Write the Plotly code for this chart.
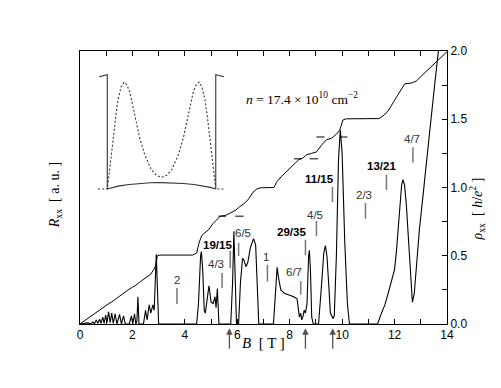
import plotly.graph_objects as go

# ----------------------------
# Data
# ----------------------------
# longitudinal resistance R_xx (arb. units, drawn on the 0..2 scale)
rxx_b = [0.0, 0.15, 0.3, 0.4, 0.5, 0.55, 0.62, 0.68, 0.75, 0.8, 0.87, 0.92, 0.98, 1.03,
         1.09, 1.15, 1.21, 1.27, 1.34, 1.41, 1.51, 1.58, 1.66, 1.73, 1.88, 1.96, 2.01,
         2.08, 2.13, 2.17, 2.21, 2.25, 2.42, 2.5, 2.56, 2.64, 2.7, 2.78, 2.83, 2.91,
         2.96, 3.0, 4.45, 4.52, 4.6, 4.63, 4.68, 4.74, 4.78, 4.88, 4.92, 5.0, 5.08,
         5.15, 5.19, 5.24, 5.3, 5.75, 5.82, 5.87, 5.92, 5.97, 6.05, 6.12, 6.2, 6.25,
         6.33, 6.4, 6.5, 6.62, 6.7, 6.76, 6.82, 7.38, 7.45, 7.52, 7.58, 7.66, 7.8,
         7.95, 8.15, 8.28, 8.33, 8.37, 8.42, 8.46, 8.5, 8.55, 8.6, 8.66, 8.72, 8.75,
         8.79, 8.84, 8.9, 9.1, 9.2, 9.3, 9.36, 9.42, 9.5, 9.55, 9.65, 9.7, 9.78, 9.86,
         9.93, 10.0, 10.1, 10.2, 10.28, 11.35, 11.5, 11.63, 11.75, 11.88, 12.0, 12.07,
         12.2, 12.27, 12.32, 12.38, 12.45, 12.53, 12.6, 12.68, 12.75, 12.83, 12.95,
         13.09, 13.2, 13.34, 13.5, 13.7]
rxx_val = [0.0, 0.003, 0.008, 0.002, 0.015, 0.0, 0.03, 0.005, 0.035, 0.005, 0.05, 0.005,
           0.065, 0.01, 0.09, 0.01, 0.08, 0.005, 0.075, 0.0, 0.07, 0.0, 0.06, 0.0, 0.0,
           0.06, 0.0, 0.075, 0.0, 0.02, 0.2, 0.0, 0.0, 0.1, 0.03, 0.14, 0.08, 0.14, 0.1,
           0.51, 0.1, 0.0, 0.0, 0.15, 0.5, 0.53, 0.4, 0.1, 0.08, 0.26, 0.28, 0.16, 0.15,
           0.2, 0.12, 0.26, 0.0, 0.0, 0.3, 0.68, 0.3, 0.0, 0.0, 0.3, 0.48, 0.47, 0.42,
           0.45, 0.56, 0.625, 0.58, 0.3, 0.0, 0.0, 0.25, 0.415, 0.33, 0.25, 0.225, 0.215,
           0.2, 0.185, 0.12, 0.05, 0.08, 0.03, 0.05, 0.1, 0.08, 0.15, 0.5, 0.54, 0.4,
           0.05, 0.0, 0.0, 0.25, 0.52, 0.575, 0.5, 0.25, 0.08, 0.04, 0.06, 0.5, 1.2,
           1.42, 1.25, 0.6, 0.15, 0.0, 0.0, 0.08, 0.14, 0.22, 0.31, 0.4, 0.53, 0.87,
           1.02, 1.057, 1.02, 0.87, 0.6, 0.35, 0.16, 0.22, 0.41, 0.7, 0.95, 1.17, 1.41,
           1.7, 2.05]

# Hall resistance staircase (h/e^2)
rxy_b = [0.0, 0.5, 0.9, 1.1, 1.2, 1.5, 1.6, 1.8, 2.0, 2.1, 2.3, 2.45, 2.6, 2.7, 2.85,
         2.9, 2.95, 3.05, 4.3, 4.45, 4.55, 4.65, 4.9, 5.07, 5.2, 5.35, 5.55, 5.7, 5.84,
         5.95, 6.09, 6.25, 6.41, 6.6, 6.75, 6.9, 7.4, 7.5, 7.68, 7.94, 8.19, 8.35, 8.5,
         8.64, 8.83, 9.02, 9.21, 9.4, 9.59, 9.78, 9.91, 10.03, 10.16, 11.4, 11.6, 11.75,
         12.13, 12.39, 12.64, 12.83, 13.15, 13.53, 14.0]
rxy_val = [0.0, 0.07, 0.125, 0.15, 0.16, 0.205, 0.215, 0.245, 0.27, 0.28, 0.31, 0.33,
           0.355, 0.365, 0.41, 0.44, 0.5, 0.505, 0.505, 0.52, 0.6, 0.65, 0.69, 0.735,
           0.76, 0.79, 0.795, 0.81, 0.825, 0.835, 0.86, 0.88, 0.91, 0.965, 0.99, 0.998,
           1.0, 1.04, 1.08, 1.13, 1.18, 1.205, 1.215, 1.24, 1.25, 1.26, 1.31, 1.35, 1.36,
           1.39, 1.42, 1.495, 1.503, 1.505, 1.53, 1.56, 1.68, 1.76, 1.765, 1.78, 1.84,
           1.91, 1.995]

# short horizontal level marks (pairs around the arrows)
dash_level = [0.79, 0.79, 1.21, 1.21, 1.37, 1.37]
dash_start = [5.28, 5.92, 8.16, 8.76, 9.02, 9.91]
dash_end = [5.57, 6.24, 8.44, 9.08, 9.33, 10.2]

# filling-factor labels: text, mark position B, mark bottom/top, label B, label y, bold
frac_text = ["2", "19/15", "4/3", "6/5", "1", "6/7", "29/35", "4/5", "11/15", "2/3",
             "13/21", "4/7"]
frac_b = [3.7, 5.73, 5.42, 6.05, 7.15, 8.42, 8.6, 9.02, 9.63, 10.89, 11.69, 12.7]
frac_lo = [0.147, 0.41, 0.264, 0.498, 0.312, 0.215, 0.503, 0.645, 0.894, 0.771, 0.982, 1.184]
frac_hi = [0.264, 0.535, 0.374, 0.593, 0.434, 0.315, 0.617, 0.755, 1.004, 0.887, 1.094, 1.294]
frac_lab_b = [3.7, 5.23, 5.17, 6.22, 7.11, 8.16, 8.06, 8.98, 9.15, 10.84, 11.5, 12.67]
frac_lab_y = [0.325, 0.58, 0.44, 0.667, 0.488, 0.381, 0.672, 0.80, 1.064, 0.943, 1.159, 1.357]
frac_bold = [False, True, False, False, False, False, True, False, True, False, True, False]

# arrows under the B axis
arrow_b = [5.7, 8.6, 9.64]

# inset: quantum well (walls at 0 and 1) with bilayer charge distribution
well_left_x = [-0.075, 0.0, 0.0]
well_left_y = [1.05, 1.07, 0.0]
well_right_x = [1.075, 1.0, 1.0]
well_right_y = [1.05, 1.07, 0.0]
well_bottom_x = [0.0, 0.05, 0.1, 0.2, 0.3, 0.4, 0.5, 0.6, 0.7, 0.8, 0.9, 0.95, 1.0]
well_bottom_y = [0.0, 0.015, 0.027, 0.042, 0.052, 0.058, 0.06, 0.058, 0.052, 0.042,
                 0.027, 0.015, 0.0]
dens_x = [-0.086, 0.0, 0.03, 0.053, 0.08, 0.099, 0.129, 0.154, 0.18, 0.206, 0.253,
          0.299, 0.345, 0.406, 0.452, 0.5, 0.548, 0.594, 0.655, 0.701, 0.747, 0.794,
          0.82, 0.846, 0.871, 0.901, 0.92, 0.947, 0.97, 1.0, 1.086]
dens_y = [0.0, 0.0, 0.25, 0.477, 0.7, 0.835, 0.96, 1.0, 0.975, 0.913, 0.694, 0.477,
          0.32, 0.18, 0.128, 0.109, 0.128, 0.18, 0.32, 0.477, 0.694, 0.913, 0.975, 1.0,
          0.96, 0.835, 0.7, 0.477, 0.25, 0.0, 0.0]

# ----------------------------
# Figure
# ----------------------------
fig = go.Figure()

fig.add_trace(go.Scatter(x=rxx_b, y=rxx_val, mode="lines",
                         line=dict(color="black", width=1.1)))
fig.add_trace(go.Scatter(x=rxy_b, y=rxy_val, mode="lines",
                         line=dict(color="black", width=1)))

# level dashes
dx, dy = [], []
for s, e, lv in zip(dash_start, dash_end, dash_level):
    dx += [s, e, None]
    dy += [lv, lv, None]
fig.add_trace(go.Scatter(x=dx, y=dy, mode="lines", line=dict(color="black", width=1)))

# fraction marks
mx, my = [], []
for b, lo, hi in zip(frac_b, frac_lo, frac_hi):
    mx += [b, b, None]
    my += [lo, hi, None]
fig.add_trace(go.Scatter(x=mx, y=my, mode="lines", line=dict(color="#777777", width=1.5)))

for t, b, y, bold in zip(frac_text, frac_lab_b, frac_lab_y, frac_bold):
    fig.add_annotation(
        x=b, y=y, xref="x", yref="y", showarrow=False,
        text=f"<b>{t}</b>" if bold else t,
        font=dict(family="Liberation Sans", size=11.5,
                  color="black" if bold else "#333333"),
    )

# inset
for xs, ys in [(well_left_x, well_left_y), (well_right_x, well_right_y),
               (well_bottom_x, well_bottom_y)]:
    fig.add_trace(go.Scatter(x=xs, y=ys, mode="lines", xaxis="x2", yaxis="y2",
                             line=dict(color="#333333", width=1.1)))
fig.add_trace(go.Scatter(x=dens_x, y=dens_y, mode="lines", xaxis="x2", yaxis="y2",
                         line=dict(color="#333333", width=1.1, dash="2px,2px")))

# arrows below the axis
for b in arrow_b:
    fig.add_annotation(
        x=b, y=-0.016, xref="x", yref="paper", text="", showarrow=True,
        ax=0, ay=22, arrowhead=2, arrowsize=1, arrowwidth=1.3, arrowcolor="#555555",
    )

serif = "Liberation Serif"
fig.add_annotation(x=0.605, y=0.865, xref="paper", yref="paper", showarrow=False,
                   text="<i>n</i> = 17.4 × 10<sup>10</sup> cm<sup>−2</sup>",
                   font=dict(family=serif, size=13.5, color="black"))
fig.add_annotation(x=0.5, y=-0.106, xref="paper", yref="paper", showarrow=False,
                   text="<i>B</i>  [ T ]", font=dict(family=serif, size=15, color="black"))
fig.add_annotation(x=-0.095, y=0.47, xref="paper", yref="paper", showarrow=False,
                   textangle=-90, text="<i>R</i><sub>xx</sub>  [ a. u. ]",
                   font=dict(family=serif, size=14, color="black"))
fig.add_annotation(x=1.115, y=0.42, xref="paper", yref="paper", showarrow=False,
                   textangle=-90,
                   text="<i>ρ</i><sub>xx</sub>  [ <i>h</i>/<i>e</i><sup>2</sup> ]",
                   font=dict(family=serif, size=14, color="black"))

x_ticks = list(range(0, 15))
y_ticks = [0.0, 0.25, 0.5, 0.75, 1.0, 1.25, 1.5, 1.75, 2.0]

fig.update_layout(
    width=501, height=388,
    margin=dict(l=72, r=62, t=43, b=72),
    paper_bgcolor="white", plot_bgcolor="white",
    showlegend=False,
    font=dict(family="Liberation Sans", size=12, color="black"),
    xaxis=dict(
        range=[0, 14], showgrid=False, zeroline=False,
        showline=True, linecolor="black", linewidth=1, mirror="ticks",
        ticks="inside", ticklen=5, tickcolor="black",
        tickvals=x_ticks,
        ticktext=[str(v) if v % 2 == 0 else "" for v in x_ticks],
    ),
    yaxis=dict(
        range=[0, 2], side="right", showgrid=False, zeroline=False,
        showline=True, linecolor="black", linewidth=1, mirror=True,
        ticks="inside", ticklen=5, tickcolor="black",
        tickvals=y_ticks,
        ticktext=[f"{v:.1f}" if abs(v * 2 - round(v * 2)) < 1e-9 else "" for v in y_ticks],
    ),
    xaxis2=dict(domain=[0.0436, 0.398], range=[-0.104, 1.095], visible=False,
                anchor="y2"),
    yaxis2=dict(domain=[0.4835, 0.930], range=[-0.028, 1.112], visible=False,
                anchor="x2"),
)

fig.write_html("out.html")
